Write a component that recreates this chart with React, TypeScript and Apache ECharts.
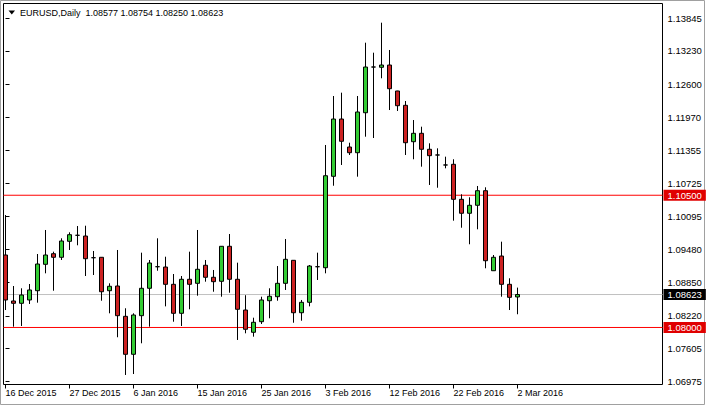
import React, { useEffect, useRef } from "react";
import * as echarts from "echarts";

const symbol = "EURUSD,Daily";

const dates = [
  "2015.12.16", "2015.12.17", "2015.12.18", "2015.12.20", "2015.12.21", "2015.12.22", "2015.12.23", "2015.12.24",
  "2015.12.27", "2015.12.28", "2015.12.29", "2015.12.30", "2015.12.31", "2016.01.03", "2016.01.04", "2016.01.05",
  "2016.01.06", "2016.01.07", "2016.01.08", "2016.01.10", "2016.01.11", "2016.01.12", "2016.01.13", "2016.01.14",
  "2016.01.15", "2016.01.17", "2016.01.18", "2016.01.19", "2016.01.20", "2016.01.21", "2016.01.22", "2016.01.24",
  "2016.01.25", "2016.01.26", "2016.01.27", "2016.01.28", "2016.01.29", "2016.01.31", "2016.02.01", "2016.02.02",
  "2016.02.03", "2016.02.04", "2016.02.05", "2016.02.07", "2016.02.08", "2016.02.09", "2016.02.10", "2016.02.11",
  "2016.02.12", "2016.02.14", "2016.02.15", "2016.02.16", "2016.02.17", "2016.02.18", "2016.02.19", "2016.02.21",
  "2016.02.22", "2016.02.23", "2016.02.24", "2016.02.25", "2016.02.26", "2016.02.28", "2016.02.29", "2016.03.01",
  "2016.03.02",
];

const opens = [
  1.0937, 1.08501, 1.08457, 1.0852, 1.08695, 1.09194, 1.09395, 1.09327,
  1.09629, 1.09743, 1.09729, 1.09319, 1.09327, 1.08695, 1.08784, 1.08211,
  1.07493, 1.08223, 1.08741, 1.09149, 1.09143, 1.08816, 1.08268, 1.08911,
  1.08835, 1.09176, 1.08949, 1.08873, 1.09535, 1.08911, 1.0833, 1.07909,
  1.08109, 1.08506, 1.08582, 1.08835, 1.0927, 1.08279, 1.08476, 1.09149,
  1.0913, 1.10858, 1.11941, 1.11412, 1.11304, 1.1206, 1.12924, 1.12919,
  1.12962, 1.12471, 1.122, 1.11512, 1.11671, 1.11369, 1.11261, 1.11072,
  1.11085, 1.10423, 1.10159, 1.1031, 1.10586, 1.09073, 1.09351, 1.08816,
  1.08577,
];

const highs = [
  1.10126, 1.08784, 1.08741, 1.08822, 1.09389, 1.09843, 1.09433, 1.09686,
  1.09799, 1.09918, 1.09924, 1.09446, 1.0933, 1.08835, 1.09465, 1.08363,
  1.08268, 1.09414, 1.09276, 1.09686, 1.09338, 1.09011, 1.08973, 1.09433,
  1.09843, 1.09276, 1.09087, 1.0954, 1.09767, 1.09225, 1.0861, 1.08185,
  1.08582, 1.08741, 1.09162, 1.09673, 1.09275, 1.0852, 1.09181, 1.09414,
  1.1145, 1.12376, 1.12439, 1.11493, 1.12376, 1.13384, 1.13195, 1.13762,
  1.13246, 1.12475, 1.12282, 1.11922, 1.11796, 1.11482, 1.11387, 1.11229,
  1.1118, 1.10518, 1.10461, 1.10675, 1.1065, 1.0937, 1.09622, 1.0893,
  1.08754,
];

const lows = [
  1.0833, 1.08015, 1.08028, 1.08444, 1.08469, 1.09024, 1.08695, 1.09276,
  1.09465, 1.09554, 1.08973, 1.08992, 1.08506, 1.08268, 1.07815, 1.07102,
  1.0712, 1.07701, 1.08015, 1.09073, 1.08399, 1.08109, 1.08028, 1.08344,
  1.08601, 1.08866, 1.08676, 1.08582, 1.08657, 1.07764, 1.0789, 1.07826,
  1.08066, 1.08174, 1.08506, 1.08709, 1.0809, 1.08128, 1.08399, 1.08898,
  1.09024, 1.1068, 1.11072, 1.11261, 1.10851, 1.11607, 1.11582, 1.12711,
  1.12111, 1.12093, 1.11261, 1.1118, 1.1104, 1.10694, 1.10642, 1.11009,
  1.10019, 1.09886, 1.09573, 1.09856, 1.09119, 1.0907, 1.08582, 1.0833,
  1.0825,
];

const closes = [
  1.0852, 1.08457, 1.08614, 1.08709, 1.092, 1.0937, 1.09327, 1.09635,
  1.09754, 1.09743, 1.093, 1.09319, 1.08676, 1.08779, 1.08223, 1.07493,
  1.08236, 1.08741, 1.09219, 1.09149, 1.08816, 1.08268, 1.08911, 1.08816,
  1.091, 1.08949, 1.08866, 1.09535, 1.08911, 1.08344, 1.07966, 1.08098,
  1.0852, 1.0859, 1.08835, 1.09289, 1.08279, 1.08476, 1.09162, 1.09149,
  1.10869, 1.11941, 1.1152, 1.11304, 1.12074, 1.12924, 1.12924, 1.12962,
  1.12514, 1.12193, 1.11493, 1.11671, 1.11369, 1.11248, 1.11261, 1.11072,
  1.10423, 1.10159, 1.1031, 1.10586, 1.09262, 1.09327, 1.08816, 1.0857,
  1.08623,
];

const xTickIndex = [0, 8, 16, 24, 32, 40, 48, 56, 64];
const xTickLabels = [
  "16 Dec 2015", "27 Dec 2015", "6 Jan 2016", "15 Jan 2016", "25 Jan 2016",
  "3 Feb 2016", "12 Feb 2016", "22 Feb 2016", "2 Mar 2016",
];

const yTicks = [
  1.13845, 1.1323, 1.126, 1.1197, 1.11355, 1.10725, 1.10095, 1.0948, 1.0885,
  1.0822, 1.07605, 1.06975,
];

const resistanceLevel = 1.105;
const supportLevel = 1.08;

const FONT = "Liberation Sans";
const X_MIN = -0.25;
const X_MAX = 82.125;

function levelSeries(value: number, lineColor: string, tagColor: string) {
  return {
    type: "line",
    data: [
      [X_MIN, value],
      [X_MAX, value],
    ],
    silent: true,
    z: 1,
    symbol: "none",
    showSymbol: false,
    clip: false,
    lineStyle: { color: lineColor, width: 1, type: "solid", opacity: 1 },
    itemStyle: { color: lineColor },
    emphasis: { disabled: true },
    endLabel: {
      show: true,
      distance: 1,
      formatter: () => value.toFixed(5),
      color: "#ffffff",
      fontSize: 9.5,
      fontFamily: FONT,
      padding: [1, 4, 0, 4],
      backgroundColor: tagColor,
    },
  };
}

export default function App() {
  const ref = useRef<HTMLDivElement>(null);

  useEffect(() => {
    if (!ref.current) return;
    const chart = echarts.init(ref.current, null, { renderer: "svg" });
    const last = dates.length - 1;
    const lastClose = closes[last];
    const data = dates.map((_, i) => [i, opens[i], closes[i], lows[i], highs[i]]);
    const title = `${symbol}  ${opens[last].toFixed(5)} ${highs[last].toFixed(5)} ${lows[last].toFixed(5)} ${lastClose.toFixed(5)}`;

    chart.setOption({
      animation: false,
      backgroundColor: "#ffffff",
      textStyle: { fontFamily: FONT },
      grid: {
        left: 3.5,
        top: 3.5,
        right: 44.5,
        bottom: 22.5,
        show: true,
        borderColor: "#000000",
        borderWidth: 1,
        backgroundColor: "#ffffff",
      },
      xAxis: {
        type: "value",
        min: X_MIN,
        max: X_MAX,
        axisLine: { show: false },
        splitLine: { show: false },
        axisTick: {
          show: true,
          customValues: xTickIndex,
          length: 4,
          lineStyle: { color: "#000000" },
        },
        axisLabel: {
          customValues: xTickIndex,
          formatter: (v: number) => {
            const k = xTickIndex.indexOf(Math.round(v));
            return k >= 0 ? xTickLabels[k] : "";
          },
          align: "left",
          margin: 4,
          fontSize: 9,
          fontFamily: FONT,
          color: "#000000",
        },
      },
      yAxis: {
        type: "value",
        position: "right",
        min: 1.06922,
        max: 1.14125,
        axisLine: { show: false },
        splitLine: { show: false },
        axisTick: {
          show: true,
          customValues: yTicks,
          length: 4,
          lineStyle: { color: "#000000" },
        },
        axisLabel: {
          customValues: yTicks,
          formatter: (v: number) => v.toFixed(5),
          margin: 5,
          fontSize: 9.5,
          fontFamily: FONT,
          color: "#000000",
        },
      },
      series: [
        levelSeries(resistanceLevel, "#ff0000", "#e00000"),
        levelSeries(supportLevel, "#ff0000", "#e00000"),
        levelSeries(lastClose, "#c0c0c0", "#000000"),
        {
          type: "candlestick",
          data,
          z: 3,
          barWidth: 4,
          itemStyle: {
            color: "#33cc33",
            color0: "#cc2222",
            borderColor: "#000000",
            borderColor0: "#000000",
            borderColorDoji: "#000000",
            borderWidth: 1,
          },
        },
      ],
      graphic: [
        {
          type: "rect",
          silent: true,
          z: -1,
          shape: { x: 0.5, y: 0.5, width: 704, height: 404 },
          style: { fill: "none", stroke: "#a0a0a0", lineWidth: 1 },
        },
        {
          type: "polygon",
          silent: true,
          shape: { points: [[8.5, 10.5], [15, 10.5], [11.75, 14.5]] },
          style: { fill: "#000000" },
        },
        {
          type: "text",
          silent: true,
          x: 20,
          y: 13,
          style: {
            text: title,
            fontSize: 9,
            fontFamily: FONT,
            fill: "#000000",
            verticalAlign: "middle",
          },
        },
      ],
    });

    return () => chart.dispose();
  }, []);

  return (
    <div
      ref={ref}
      style={{ position: "fixed", left: 0, top: 0, width: 707, height: 407, background: "#ffffff" }}
    />
  );
}
